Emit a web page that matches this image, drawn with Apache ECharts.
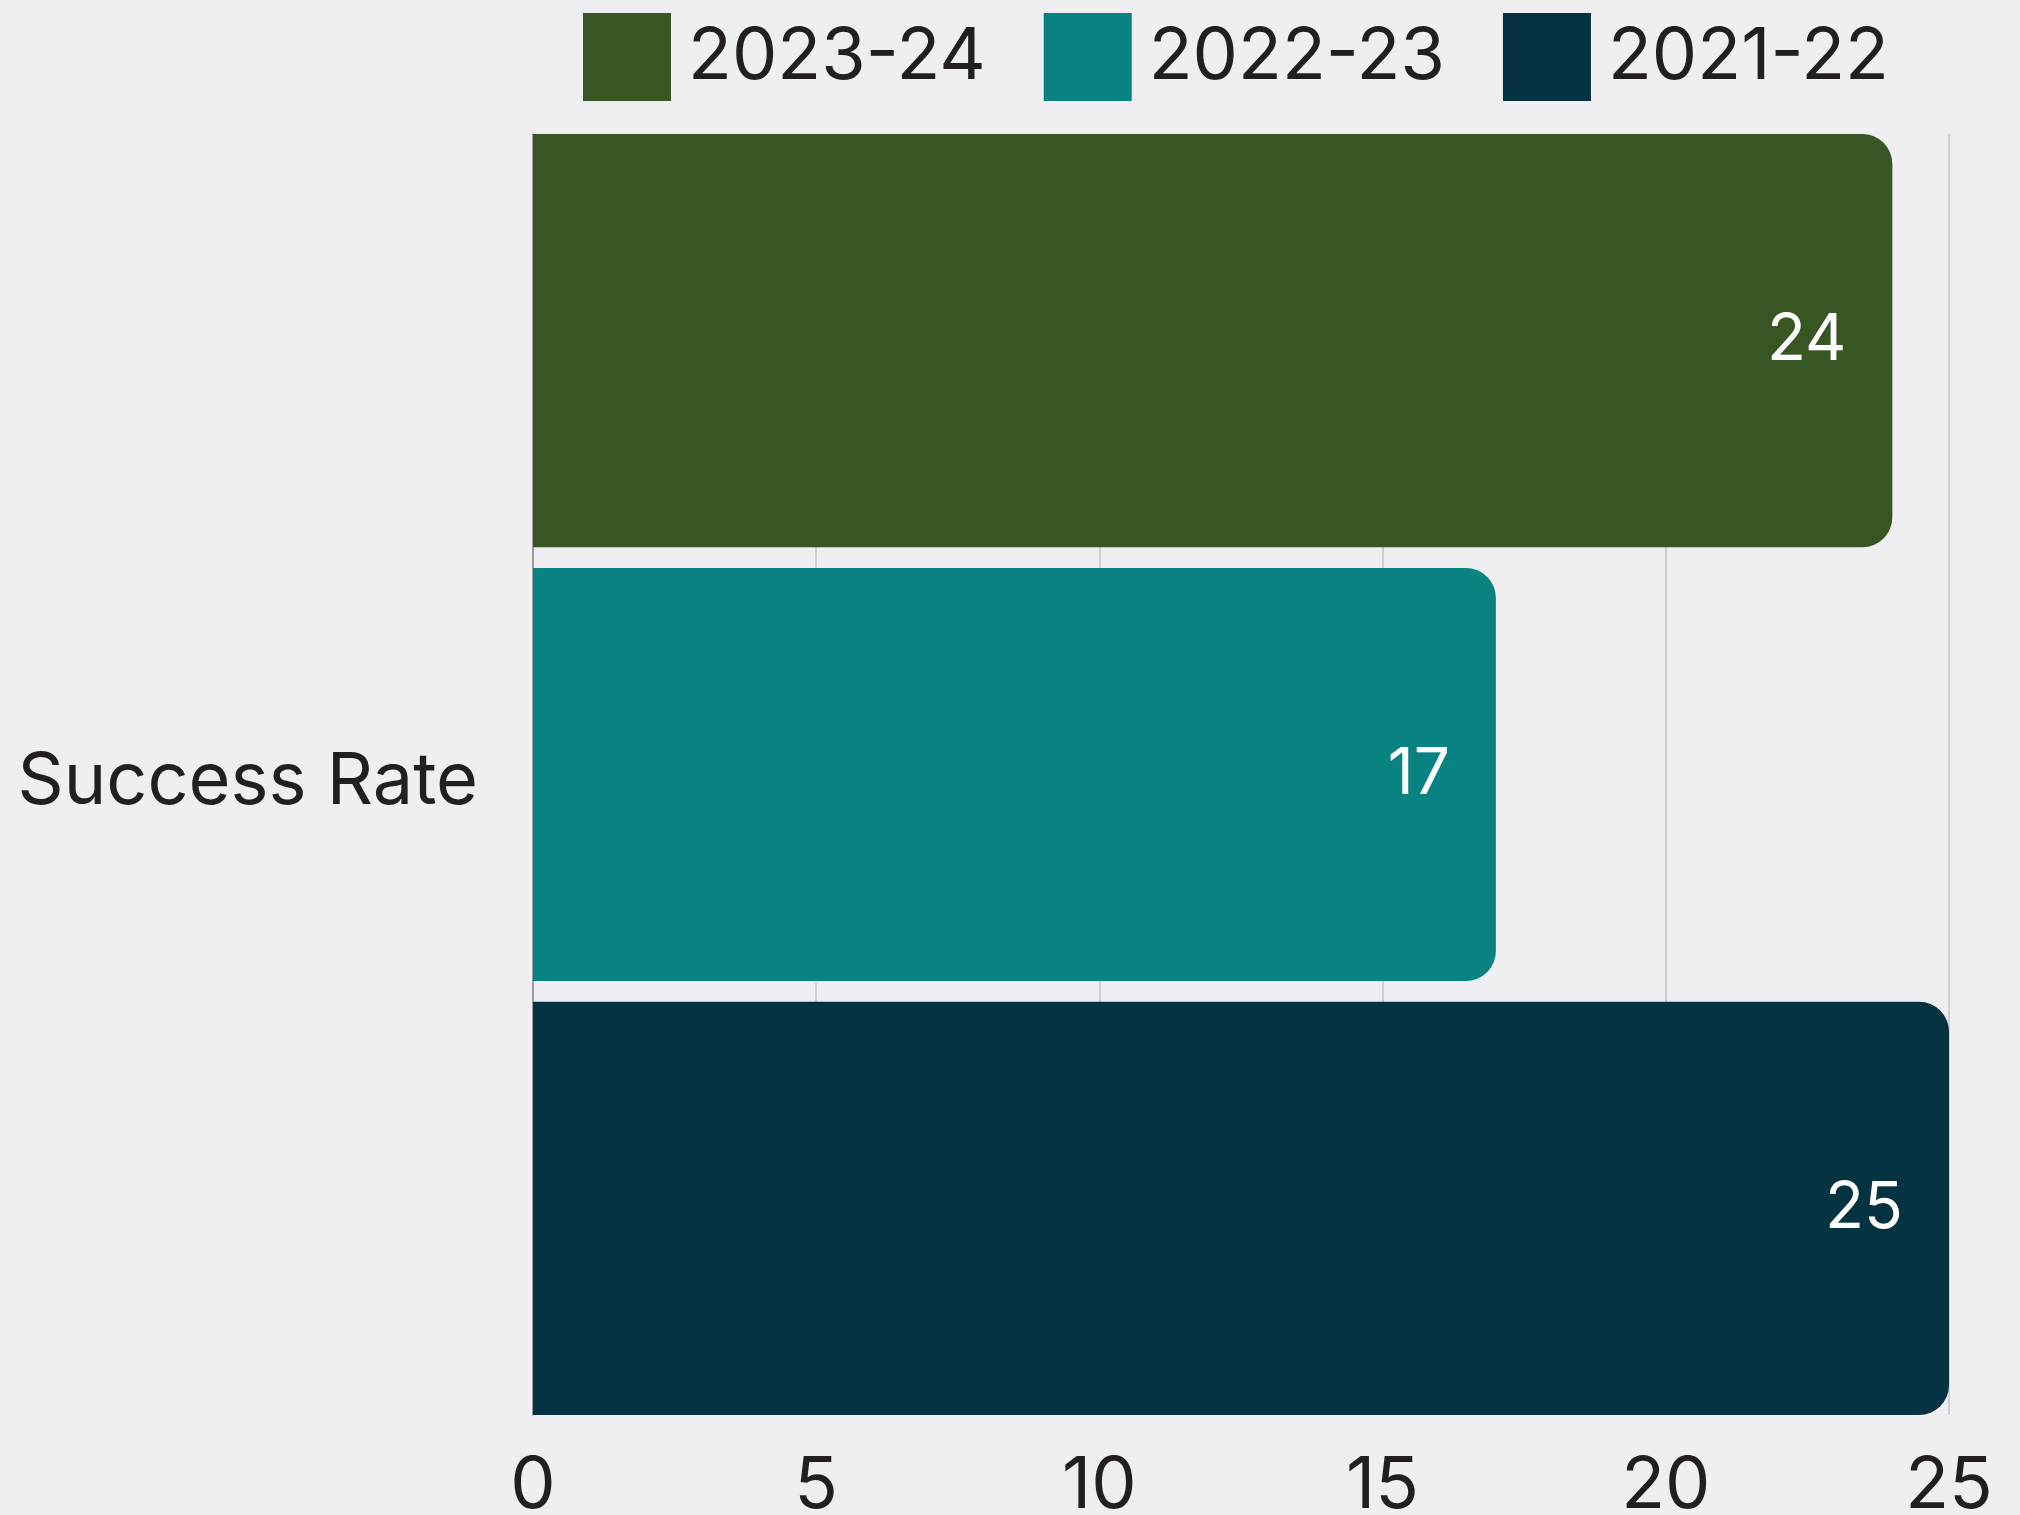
<!DOCTYPE html>
<html><head><meta charset="utf-8">
<script src="https://cdn.jsdelivr.net/npm/echarts@6/dist/echarts.min.js"></script>
<style>html,body{margin:0;padding:0;background:#efeff1}#c{width:2020px;height:1515px}</style>
</head><body><div id="c"></div>
<script>
var categories = ['Success Rate'];
var seriesNames = ['2023-24', '2022-23', '2021-22'];
var values2021 = [25];
var values2022 = [17];
var values2023 = [24];
var legendOrder = ['2023-24', '2022-23', '2021-22'];
var xTicks = [0, 5, 10, 15, 20, 25];
var colors = {'2023-24': '#375623', '2022-23': '#098381', '2021-22': '#053342'};
var dataByName = {'2021-22': values2021, '2022-23': values2022, '2023-24': values2023};
var FONT = 'Inter';
var chart = echarts.init(document.getElementById('c'));
chart.setOption({
  backgroundColor: '#efeff1',
  textStyle: {fontFamily: FONT},
  legend: {
    data: legendOrder, top: 8, left: 578, itemWidth: 88, itemHeight: 88, itemGap: 58,
    icon: 'rect',
    textStyle: {fontSize: 72, color: '#231f20', fontFamily: FONT, padding: [0,0,0,12]}
  },
  grid: {left: 533, right: 71, top: 134, bottom: 100, containLabel: false, outerBoundsMode: 'none'},
  xAxis: {
    type: 'value', min: xTicks[0], max: xTicks[xTicks.length-1], interval: 5,
    axisLine: {show: false}, axisTick: {show: false},
    splitLine: {show: true, lineStyle: {color: '#c4c4c6', width: 1.5}},
    axisLabel: {fontSize: 72, color: '#231f20', margin: 35, fontFamily: FONT}
  },
  yAxis: {
    type: 'category', data: categories,
    axisLine: {show: true, lineStyle: {color: '#8c8c8c', width: 1.5}},
    axisTick: {show: false},
    axisLabel: {
      fontSize: 72, color: '#231f20', margin: 55, fontFamily: FONT,
      formatter: function (v) { return '{a|' + v + '}'; },
      rich: {a: {fontSize: 72, color: '#231f20', fontFamily: FONT, padding: [16, 0, 0, 0]}}
    }
  },
  series: seriesNames.map(function (n) {
    return {
      name: n, type: 'bar', data: dataByName[n],
      barCategoryGap: '0%', barGap: '5%',
      itemStyle: {color: colors[n], borderRadius: [0, 30, 30, 0]},
      label: {show: true, position: 'insideRight', distance: 46, color: '#ffffff', fontSize: 64, fontFamily: FONT},
      animation: false
    };
  })
});
</script></body></html>
